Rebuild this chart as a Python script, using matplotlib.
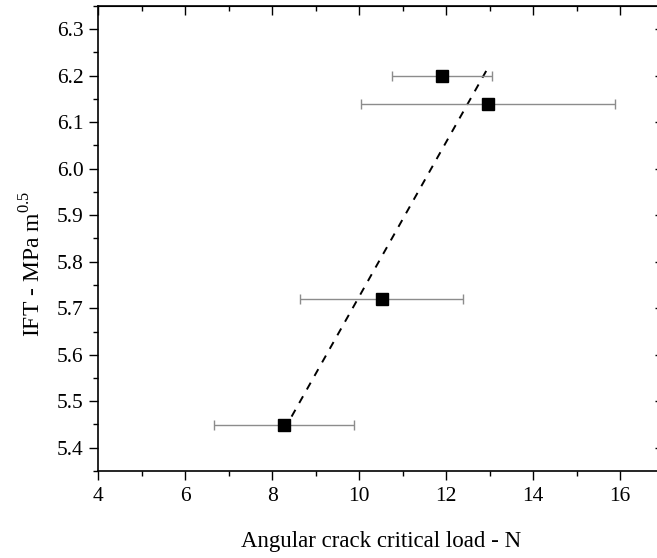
import numpy as np
import matplotlib
matplotlib.use('Agg')
import matplotlib.pyplot as plt
from matplotlib.ticker import MultipleLocator, FormatStrFormatter

# data
load = [11.91, 12.97, 10.52, 8.27]
load_err = [1.15, 2.92, 1.87, 1.60]
ift = [6.20, 6.14, 5.72, 5.45]

plt.rcParams['font.family'] = ['Liberation Serif', 'DejaVu Serif']
plt.rcParams['mathtext.fontset'] = 'custom'
plt.rcParams['mathtext.rm'] = 'Liberation Serif'

fig = plt.figure(figsize=(6.57, 5.58), dpi=100)
fig.set_facecolor('w')
ax = fig.add_axes([98.3 / 657, 1 - 471 / 558, (663.5 - 98.3) / 657, 465 / 558])

# linear fit (dashed)
k, b = np.polyfit(load, ift, 1)
xf = np.array([min(load), max(load)])
ax.plot(xf, k * xf + b, color='k', ls=(0, (4, 4)), lw=1.4, zorder=2)

ax.errorbar(load, ift, xerr=load_err, fmt='s', color='k', ms=8,
            ecolor='#8c8c8c', elinewidth=1.0, capsize=3.5, capthick=1.0,
            zorder=3)

ax.set_xlim(4, 17)
ax.set_ylim(5.35, 6.35)
for a in (ax.xaxis, ax.yaxis):
    pass
ax.xaxis.set_major_locator(MultipleLocator(2))
ax.xaxis.set_minor_locator(MultipleLocator(1))
ax.yaxis.set_major_locator(MultipleLocator(0.1))
ax.yaxis.set_minor_locator(MultipleLocator(0.05))
ax.yaxis.set_major_formatter(FormatStrFormatter('%.1f'))
ax.tick_params(which='both', direction='out', labelsize=15.5, width=1.0)
ax.tick_params(which='major', length=6.5)
ax.tick_params(which='minor', length=3.8)
ax.tick_params(axis='x', pad=5)
ax.tick_params(axis='y', pad=4)
for s in ax.spines.values():
    s.set_linewidth(1.2)

# top / right ticks pointing inward, no labels
top = ax.secondary_xaxis('top')
top.xaxis.set_major_locator(MultipleLocator(2))
top.xaxis.set_minor_locator(MultipleLocator(1))
top.tick_params(which='both', direction='in', labeltop=False, width=1.0)
top.tick_params(which='major', length=6.5)
top.tick_params(which='minor', length=3.8)
right = ax.secondary_yaxis('right')
right.yaxis.set_major_locator(MultipleLocator(0.1))
right.yaxis.set_minor_locator(MultipleLocator(0.05))
right.tick_params(which='both', direction='in', labelright=False, width=1.0)
right.tick_params(which='major', length=6.5)
right.tick_params(which='minor', length=3.8)

ax.set_xlabel('Angular crack critical load - N', fontsize=16.5)
ax.set_ylabel(r'IFT - MPa m$^{\mathregular{0.5}}$', fontsize=17)
ax.xaxis.set_label_coords(0.5, -0.13)
ax.yaxis.set_label_coords(-0.094, 0.446)

fig.savefig('out.png', dpi=100)
